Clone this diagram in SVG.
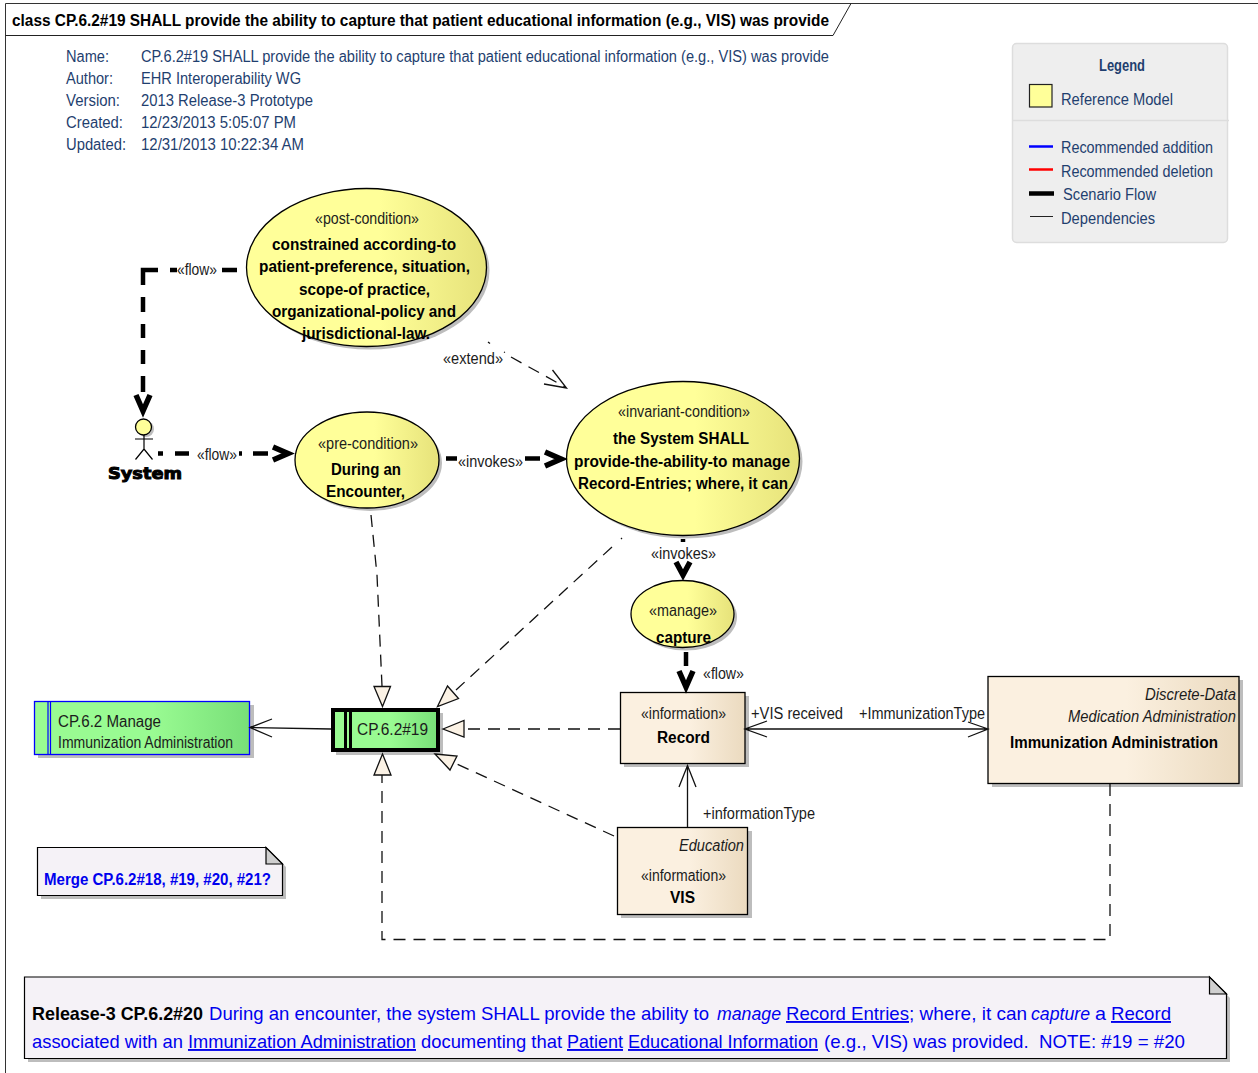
<svg xmlns="http://www.w3.org/2000/svg" width="1258" height="1073" viewBox="0 0 1258 1073">
<defs>
<linearGradient id="gy" x1="0" x2="1" y1="0" y2="0"><stop offset="0.55" stop-color="#ffff99"/><stop offset="1" stop-color="#e6e27a"/></linearGradient>
<linearGradient id="gg" x1="0" x2="1" y1="0" y2="0"><stop offset="0.55" stop-color="#99fb92"/><stop offset="1" stop-color="#78df78"/></linearGradient>
<linearGradient id="gt" x1="0" x2="1" y1="0" y2="0"><stop offset="0.55" stop-color="#fbf0e0"/><stop offset="1" stop-color="#ebdabf"/></linearGradient>
</defs>
<style>
text{font-family:"Liberation Sans",Arial,sans-serif;font-size:16px;fill:#1c1c1c}
.b{font-weight:bold;fill:#000}
.i{font-style:italic}
.h{fill:#1f3f6f}
.lg{fill:#1f3f6f}
.u{text-decoration:underline}
.n{font-size:19px;fill:#0000ee}
.nb{font-size:19px;font-weight:bold;fill:#000}
.sh{fill:#bdbdbd;stroke:none}
.el{fill:url(#gy);stroke:#000;stroke-width:1.3}
.tan{fill:url(#gt);stroke:#000;stroke-width:1.3}
.thick{fill:none;stroke:#000;stroke-width:4.5}
.head{fill:none;stroke:#000;stroke-width:5.5}
.thin{fill:none;stroke:#111;stroke-width:1.3}
.dash{fill:none;stroke:#111;stroke-width:1.3;stroke-dasharray:12 8}
.tri{fill:#fbf2e5;stroke:#111;stroke-width:1.3}
</style>

<g id="frame">
<path d="M5.5 1073V3.5H1258" fill="none" stroke="#333" stroke-width="1"/>
<path d="M5.5 35.5H833L851 3.5" fill="none" stroke="#222" stroke-width="1"/>
<text class="b" x="12" y="26" textLength="817" lengthAdjust="spacingAndGlyphs">class CP.6.2#19 SHALL provide the ability to capture that patient educational information (e.g., VIS) was provide</text>
</g>

<g id="header">
<text class="h" x="66" y="62" textLength="43" lengthAdjust="spacingAndGlyphs">Name:</text>
<text class="h" x="141" y="62" textLength="688" lengthAdjust="spacingAndGlyphs">CP.6.2#19 SHALL provide the ability to capture that patient educational information (e.g., VIS) was provide</text>
<text class="h" x="66" y="84" textLength="47" lengthAdjust="spacingAndGlyphs">Author:</text>
<text class="h" x="141" y="84" textLength="160" lengthAdjust="spacingAndGlyphs">EHR Interoperability WG</text>
<text class="h" x="66" y="106" textLength="54" lengthAdjust="spacingAndGlyphs">Version:</text>
<text class="h" x="141" y="106" textLength="172" lengthAdjust="spacingAndGlyphs">2013 Release-3 Prototype</text>
<text class="h" x="66" y="128" textLength="57" lengthAdjust="spacingAndGlyphs">Created:</text>
<text class="h" x="141" y="128" textLength="155" lengthAdjust="spacingAndGlyphs">12/23/2013 5:05:07 PM</text>
<text class="h" x="66" y="150" textLength="60" lengthAdjust="spacingAndGlyphs">Updated:</text>
<text class="h" x="141" y="150" textLength="163" lengthAdjust="spacingAndGlyphs">12/31/2013 10:22:34 AM</text>
</g>

<g id="legend">
<rect x="1012.5" y="43.5" width="215" height="199" rx="4" fill="#eeeeee" stroke="#dddddd" stroke-width="1.5"/>
<path d="M1013 120.5H1229" stroke="#dddddd" stroke-width="1.5"/>
<text class="b" x="1099" y="71" textLength="46" lengthAdjust="spacingAndGlyphs" style="fill:#1f3f6f">Legend</text>
<rect x="1029.5" y="84.5" width="22.500" height="22.500" fill="#ffff99" stroke="#222" stroke-width="1.2"/>
<text class="lg" x="1061" y="105" textLength="112" lengthAdjust="spacingAndGlyphs">Reference Model</text>
<path d="M1029 146.500H1053" stroke="#0000ff" stroke-width="2.500"/>
<path d="M1029 169.500H1053" stroke="#ff0000" stroke-width="2.500"/>
<path d="M1029 193.500H1054" stroke="#000" stroke-width="4.500"/>
<path d="M1030 216.500H1053" stroke="#222" stroke-width="1"/>
<text class="lg" x="1061" y="153" textLength="152" lengthAdjust="spacingAndGlyphs">Recommended addition</text>
<text class="lg" x="1061" y="177" textLength="152" lengthAdjust="spacingAndGlyphs">Recommended deletion</text>
<text class="lg" x="1063" y="200" textLength="93" lengthAdjust="spacingAndGlyphs">Scenario Flow</text>
<text class="lg" x="1061" y="224" textLength="94" lengthAdjust="spacingAndGlyphs">Dependencies</text>
</g>

<g id="post-condition">
<ellipse class="sh" cx="369.500" cy="270.500" rx="120" ry="79"/>
<ellipse class="el" cx="366.500" cy="267.500" rx="120" ry="79"/>
<text x="315" y="224" textLength="104" lengthAdjust="spacingAndGlyphs">«post-condition»</text>
<text class="b" x="272" y="250" textLength="184" lengthAdjust="spacingAndGlyphs">constrained according-to</text>
<text class="b" x="259" y="272" textLength="211" lengthAdjust="spacingAndGlyphs">patient-preference, situation,</text>
<text class="b" x="299" y="295" textLength="131" lengthAdjust="spacingAndGlyphs">scope-of practice,</text>
<text class="b" x="272" y="317" textLength="184" lengthAdjust="spacingAndGlyphs">organizational-policy and</text>
<text class="b" x="302" y="339" textLength="128" lengthAdjust="spacingAndGlyphs">jurisdictional-law.</text>
</g>

<g id="actor-system">
<circle class="sh" cx="146" cy="429" r="8"/>
<circle cx="143.500" cy="427" r="8" fill="#ffff99" stroke="#000" stroke-width="1.300"/>
<path d="M144 435V449M135 439H153M135.500 459.500L144 449L152.500 459.500" fill="none" stroke="#000" stroke-width="1.200"/>
<text x="108" y="479" textLength="74" lengthAdjust="spacingAndGlyphs" style="font-family:'DejaVu Sans',sans-serif;font-weight:bold;font-size:16px;fill:#000;stroke:#000;stroke-width:1">System</text>
</g>

<g id="pre-condition">
<ellipse class="sh" cx="370" cy="463" rx="72" ry="48"/>
<ellipse class="el" cx="367" cy="460" rx="72" ry="48"/>
<text x="318" y="449" textLength="100" lengthAdjust="spacingAndGlyphs">«pre-condition»</text>
<text class="b" x="331" y="475" textLength="70" lengthAdjust="spacingAndGlyphs">During an</text>
<text class="b" x="326" y="497" textLength="79" lengthAdjust="spacingAndGlyphs">Encounter,</text>
</g>

<g id="invariant-condition">
<ellipse class="sh" cx="686" cy="461.500" rx="116.500" ry="77"/>
<ellipse class="el" cx="683" cy="458.500" rx="116.500" ry="77"/>
<text x="618" y="417" textLength="132" lengthAdjust="spacingAndGlyphs">«invariant-condition»</text>
<text class="b" x="613" y="444" textLength="136" lengthAdjust="spacingAndGlyphs">the System SHALL</text>
<text class="b" x="574" y="467" textLength="216" lengthAdjust="spacingAndGlyphs">provide-the-ability-to manage</text>
<text class="b" x="578" y="489" textLength="210" lengthAdjust="spacingAndGlyphs">Record-Entries; where, it can</text>
</g>

<g id="manage">
<ellipse class="sh" cx="685.500" cy="617" rx="51.500" ry="33.500"/>
<ellipse class="el" cx="682.500" cy="614" rx="51.500" ry="33.500"/>
<text x="649" y="616" textLength="68" lengthAdjust="spacingAndGlyphs">«manage»</text>
<text class="b" x="656" y="643" textLength="55" lengthAdjust="spacingAndGlyphs">capture</text>
</g>

<g id="cp62">
<rect class="sh" x="38" y="705" width="216" height="53"/>
<rect x="34.500" y="701.500" width="215" height="53" fill="url(#gg)" stroke="#0000ff" stroke-width="1.300"/>
<path d="M48 701.500V754.500M50.500 701.500V754.500" stroke="#0000ff" stroke-width="1.200" fill="none"/>
<text x="58" y="727" textLength="103" lengthAdjust="spacingAndGlyphs">CP.6.2 Manage</text>
<text x="58" y="748" textLength="175" lengthAdjust="spacingAndGlyphs">Immunization Administration</text>
</g>

<g id="cp62-19">
<rect class="sh" x="336" y="713" width="107" height="42"/>
<rect x="333" y="710" width="105" height="40" fill="url(#gg)" stroke="#000" stroke-width="4"/>
<path d="M345.500 710V750M350.500 710V750" stroke="#000" stroke-width="3" fill="none"/>
<text x="357" y="735" textLength="71" lengthAdjust="spacingAndGlyphs">CP.6.2#19</text>
</g>

<g id="record">
<rect class="sh" x="624" y="696" width="125" height="71"/>
<rect class="tan" x="620.500" y="692.500" width="124.500" height="71"/>
<text x="641" y="719" textLength="85" lengthAdjust="spacingAndGlyphs">«information»</text>
<text class="b" x="657" y="743" textLength="53" lengthAdjust="spacingAndGlyphs">Record</text>
</g>

<g id="vis">
<rect class="sh" x="621" y="831" width="131" height="87"/>
<rect class="tan" x="617.500" y="827.500" width="130" height="87"/>
<text class="i" x="679" y="851" textLength="65" lengthAdjust="spacingAndGlyphs">Education</text>
<text x="641" y="881" textLength="85" lengthAdjust="spacingAndGlyphs">«information»</text>
<text class="b" x="670" y="903" textLength="25" lengthAdjust="spacingAndGlyphs">VIS</text>
</g>

<g id="immunization-administration">
<rect class="sh" x="992" y="680" width="251" height="107"/>
<rect class="tan" x="988" y="676.500" width="251" height="107"/>
<text class="i" x="1145" y="700" textLength="91" lengthAdjust="spacingAndGlyphs">Discrete-Data</text>
<text class="i" x="1068" y="722" textLength="168" lengthAdjust="spacingAndGlyphs">Medication Administration</text>
<text class="b" x="1010" y="748" textLength="208" lengthAdjust="spacingAndGlyphs">Immunization Administration</text>
</g>

<g id="merge-note">
<path class="sh" d="M41 851H270L286 867V899H41Z"/>
<path d="M37.500 847.500H266L282.500 864V895.500H37.500Z" fill="#f5f2f7" stroke="#000" stroke-width="1.200"/>
<path d="M266 847.500V864H282.500Z" fill="#cfcfcf" stroke="#000" stroke-width="1.200"/>
<text class="b" x="44" y="885" textLength="227" lengthAdjust="spacingAndGlyphs" style="fill:#0000ee">Merge CP.6.2#18, #19, #20, #21?</text>
</g>

<g id="release-note">
<path class="sh" d="M28 981H1213L1230 998V1062H28Z"/>
<path d="M24.500 977H1209.500L1226.500 994V1058.500H24.500Z" fill="#f5f2f7" stroke="#000" stroke-width="1.200"/>
<path d="M1209.500 977V994H1226.500Z" fill="#cfcfcf" stroke="#000" stroke-width="1.200"/>
<text class="nb" x="32" y="1020" textLength="171" lengthAdjust="spacingAndGlyphs">Release-3 CP.6.2#20</text>
<text class="n" x="209" y="1020" textLength="500" lengthAdjust="spacingAndGlyphs">During an encounter, the system SHALL provide the ability to</text>
<text class="n i" x="717" y="1020" textLength="64" lengthAdjust="spacingAndGlyphs">manage</text>
<text class="n u" x="786" y="1020" textLength="123" lengthAdjust="spacingAndGlyphs">Record Entries</text>
<text class="n" x="909" y="1020" textLength="118" lengthAdjust="spacingAndGlyphs">; where, it can</text>
<text class="n i" x="1031" y="1020" textLength="59" lengthAdjust="spacingAndGlyphs">capture</text>
<text class="n" x="1095" y="1020" textLength="11" lengthAdjust="spacingAndGlyphs">a</text>
<text class="n u" x="1111" y="1020" textLength="60" lengthAdjust="spacingAndGlyphs">Record</text>
<text class="n" x="32" y="1048" textLength="151" lengthAdjust="spacingAndGlyphs">associated with an</text>
<text class="n u" x="188" y="1048" textLength="228" lengthAdjust="spacingAndGlyphs">Immunization Administration</text>
<text class="n" x="421" y="1048" textLength="141" lengthAdjust="spacingAndGlyphs">documenting that</text>
<text class="n u" x="567" y="1048" textLength="56" lengthAdjust="spacingAndGlyphs">Patient</text>
<text class="n u" x="628" y="1048" textLength="190" lengthAdjust="spacingAndGlyphs">Educational Information</text>
<text class="n" x="824" y="1048" textLength="361" lengthAdjust="spacingAndGlyphs" xml:space="preserve">(e.g., VIS) was provided.  NOTE: #19 = #20</text>
</g>

<g id="connectors">
<path class="thick" d="M237 270H222M177 270H170M158 270H143V285M143 297V312M143 324V338M143 350V364M143 376V392"/>
<path class="head" d="M136 395L143 411L150 395"/>
<path class="thick" d="M158 453.500H163M175 453.500H189M239 453.500H242M253 453.500H268"/>
<path class="head" d="M273 447L288 453.500L273 460"/>
<path class="thick" d="M446 458.500H457M525 458.500H540"/>
<path class="head" d="M545 452L561 459L545 466"/>
<path class="thick" d="M683 539V542"/>
<path class="head" d="M676 562L683 575L690 562"/>
<path class="thick" d="M686 652V666"/>
<path class="head" d="M679 671L686 687L693 671"/>
<path class="dash" d="M488 342L490 343.500M504 352L505 352.500M511 357L565 387"/>
<path class="thin" d="M552.500 370L566.500 388L544 384"/>
<path class="dash" d="M371 515L377 575L382 686"/>
<path class="tri" d="M374 686.500H390.500L382.500 706.500Z"/>
<path class="dash" d="M622 538L621 539M612 547L456 690"/>
<path class="tri" d="M437.500 706.500L447.500 686L458.500 698.500Z"/>
<path class="dash" d="M620 729H465"/>
<path class="tri" d="M443 729L464 720.500V737Z"/>
<path class="dash" d="M614 836L457 764"/>
<path class="tri" d="M435 754L457 756L450 770Z"/>
<path class="dash" d="M1110 784V939.500H382V775"/>
<path class="tri" d="M382.500 754L391 775H374Z"/>
<path class="thin" d="M331 729L250 727.500M272 719L250 727.500L272 737"/>
<path class="thin" d="M745 729H988M767 721L745 729L767 737M968 722L988 729L968 737"/>
<path class="thin" d="M687.500 827V765.500M679 787L687.500 765.500L696 787"/>
<text x="177" y="275" textLength="40" lengthAdjust="spacingAndGlyphs">«flow»</text>
<text x="197" y="460" textLength="40" lengthAdjust="spacingAndGlyphs">«flow»</text>
<text x="458" y="467" textLength="65" lengthAdjust="spacingAndGlyphs">«invokes»</text>
<text x="651" y="559" textLength="65" lengthAdjust="spacingAndGlyphs">«invokes»</text>
<text x="703" y="679" textLength="41" lengthAdjust="spacingAndGlyphs">«flow»</text>
<text x="443" y="364" textLength="60" lengthAdjust="spacingAndGlyphs">«extend»</text>
<text x="751" y="719" textLength="92" lengthAdjust="spacingAndGlyphs">+VIS received</text>
<text x="859" y="719" textLength="126" lengthAdjust="spacingAndGlyphs">+ImmunizationType</text>
<text x="703" y="819" textLength="112" lengthAdjust="spacingAndGlyphs">+informationType</text>
</g>
</svg>
